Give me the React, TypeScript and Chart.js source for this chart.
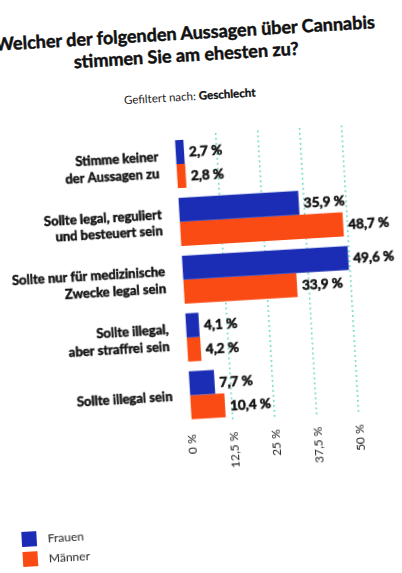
import { useEffect, useRef } from "react";
import { Chart, registerables } from "chart.js";

Chart.register(...registerables);

const categories: string[][] = [
  ["Stimme keiner", "der Aussagen zu"],
  ["Sollte legal, reguliert", "und besteuert sein"],
  ["Sollte nur für medizinische", "Zwecke legal sein"],
  ["Sollte illegal,", "aber straffrei sein"],
  ["Sollte illegal sein"],
];
const frauen = [2.7, 35.9, 49.6, 4.1, 7.7];
const maenner = [2.8, 48.7, 33.9, 4.2, 10.4];
const tickValues = [0, 12.5, 25, 37.5, 50];
const seriesNames = ["Frauen", "Männer"];
const seriesColors = ["#1b2db4", "#fb4b14"];

const FONT = "Lato, 'Open Sans', sans-serif";
const fmt = (v: number) => v.toLocaleString("de-DE") + " %";

const valueLabels = {
  id: "valueLabels",
  afterDatasetsDraw(chart: any) {
    const ctx = chart.ctx;
    ctx.save();
    ctx.font = `bold 13.5px ${FONT}`;
    ctx.fillStyle = "#111";
    ctx.strokeStyle = "#111";
    ctx.lineWidth = 0.6;
    ctx.textAlign = "left";
    ctx.textBaseline = "middle";
    chart.data.datasets.forEach((ds: any, i: number) => {
      const meta = chart.getDatasetMeta(i);
      meta.data.forEach((bar: any, j: number) => {
        const t = fmt(ds.data[j]);
        ctx.fillText(t, bar.x + 5, bar.y + 1);
        ctx.strokeText(t, bar.x + 5, bar.y + 1);
      });
    });
    ctx.restore();
  },
};

const rotatedTicks = {
  id: "rotatedTicks",
  afterDraw(chart: any) {
    const ctx = chart.ctx;
    const xs = chart.scales.x;
    const bottom = chart.chartArea.bottom;
    ctx.save();
    ctx.font = `12px ${FONT}`;
    ctx.fillStyle = "#222";
    tickValues.forEach((v) => {
      const px = xs.getPixelForValue(v);
      ctx.save();
      ctx.translate(px, bottom + 10);
      ctx.rotate(-Math.PI / 2);
      ctx.textAlign = "right";
      ctx.textBaseline = "middle";
      ctx.fillText(fmt(v), 0, 0);
      ctx.restore();
    });
    ctx.restore();
  },
};

function BarChart() {
  const ref = useRef<HTMLCanvasElement | null>(null);
  useEffect(() => {
    if (!ref.current) return;
    const chart = new Chart(ref.current, {
      type: "bar",
      data: {
        labels: categories,
        datasets: [
          {
            label: seriesNames[0],
            data: frauen,
            backgroundColor: seriesColors[0],
            borderWidth: 0,
            categoryPercentage: 0.83,
            barPercentage: 1,
          },
          {
            label: seriesNames[1],
            data: maenner,
            backgroundColor: seriesColors[1],
            borderWidth: 0,
            categoryPercentage: 0.83,
            barPercentage: 1,
          },
        ],
      },
      options: {
        indexAxis: "y",
        animation: false,
        responsive: true,
        maintainAspectRatio: false,
        layout: { padding: { top: 134, bottom: 149.5, right: 51, left: 0 } },
        plugins: {
          legend: { display: false },
          title: { display: false },
          tooltip: { enabled: false },
        },
        scales: {
          x: {
            min: 0,
            max: 50,
            afterBuildTicks: (scale: any) => {
              scale.ticks = tickValues.map((v) => ({ value: v }));
            },
            afterFit: (scale: any) => {
              scale.height = 0;
            },
            ticks: { display: false },
            border: { display: false, dash: [2, 3] },
            grid: {
              drawTicks: false,
              lineWidth: 1.5,
              color: (c: any) => (c.tick && c.tick.value === 0 ? "rgba(0,0,0,0)" : "#73dcc4"),
            },
          },
          y: {
            afterFit: (scale: any) => {
              scale.width = 183;
            },
            border: { display: false },
            grid: { display: false, drawTicks: false },
            ticks: {
              padding: 17,
              color: "#111",
              textStrokeColor: "#111",
              textStrokeWidth: 0.5,
              font: { family: FONT, size: 13, weight: "bold", lineHeight: 1.3 },
            },
          },
        },
      } as any,
      plugins: [valueLabels, rotatedTicks],
    });
    return () => chart.destroy();
  }, []);
  return <canvas ref={ref} />;
}

export default function App() {
  return (
    <div
      style={{
        position: "fixed",
        left: 0,
        top: 0,
        width: 402,
        height: 573,
        overflow: "hidden",
        background: "#fff",
      }}
    >
      <div
        style={{
          position: "absolute",
          left: 0,
          top: 0,
          width: 402,
          height: 573,
          transform: "rotate(-3.4deg)",
          transformOrigin: "201px 286.5px",
          fontFamily: FONT,
          color: "#111",
        }}
      >
        <div
          style={{
            position: "absolute",
            left: -60,
            top: 21,
            width: 520,
            textAlign: "center",
            fontSize: 18,
            fontWeight: "bold",
            lineHeight: "22px",
            whiteSpace: "nowrap",
            WebkitTextStroke: "0.5px #111",
          }}
        >
          Welcher der folgenden Aussagen über Cannabis
          <br />
          stimmen Sie am ehesten zu?
        </div>
        <div
          style={{
            position: "absolute",
            left: 0,
            top: 89,
            width: 402,
            textAlign: "center",
            fontSize: 11.5,
            lineHeight: "14px",
            color: "#222",
          }}
        >
          Gefiltert nach:{" "}
          <b style={{ color: "#111", WebkitTextStroke: "0.3px #111" }}>Geschlecht</b>
        </div>
        <div style={{ position: "absolute", left: 0, top: 0, width: 402, height: 573 }}>
          <BarChart />
        </div>
        {seriesNames.map((name, i) => (
          <div
            key={name}
            style={{
              position: "absolute",
              left: 7,
              top: 521 + i * 20,
              height: 15,
              display: "flex",
              alignItems: "center",
            }}
          >
            <span
              style={{
                display: "inline-block",
                width: 15,
                height: 15,
                background: seriesColors[i],
                marginRight: 11,
              }}
            />
            <span style={{ fontSize: 12, lineHeight: "15px", color: "#222" }}>{name}</span>
          </div>
        ))}
      </div>
    </div>
  );
}
